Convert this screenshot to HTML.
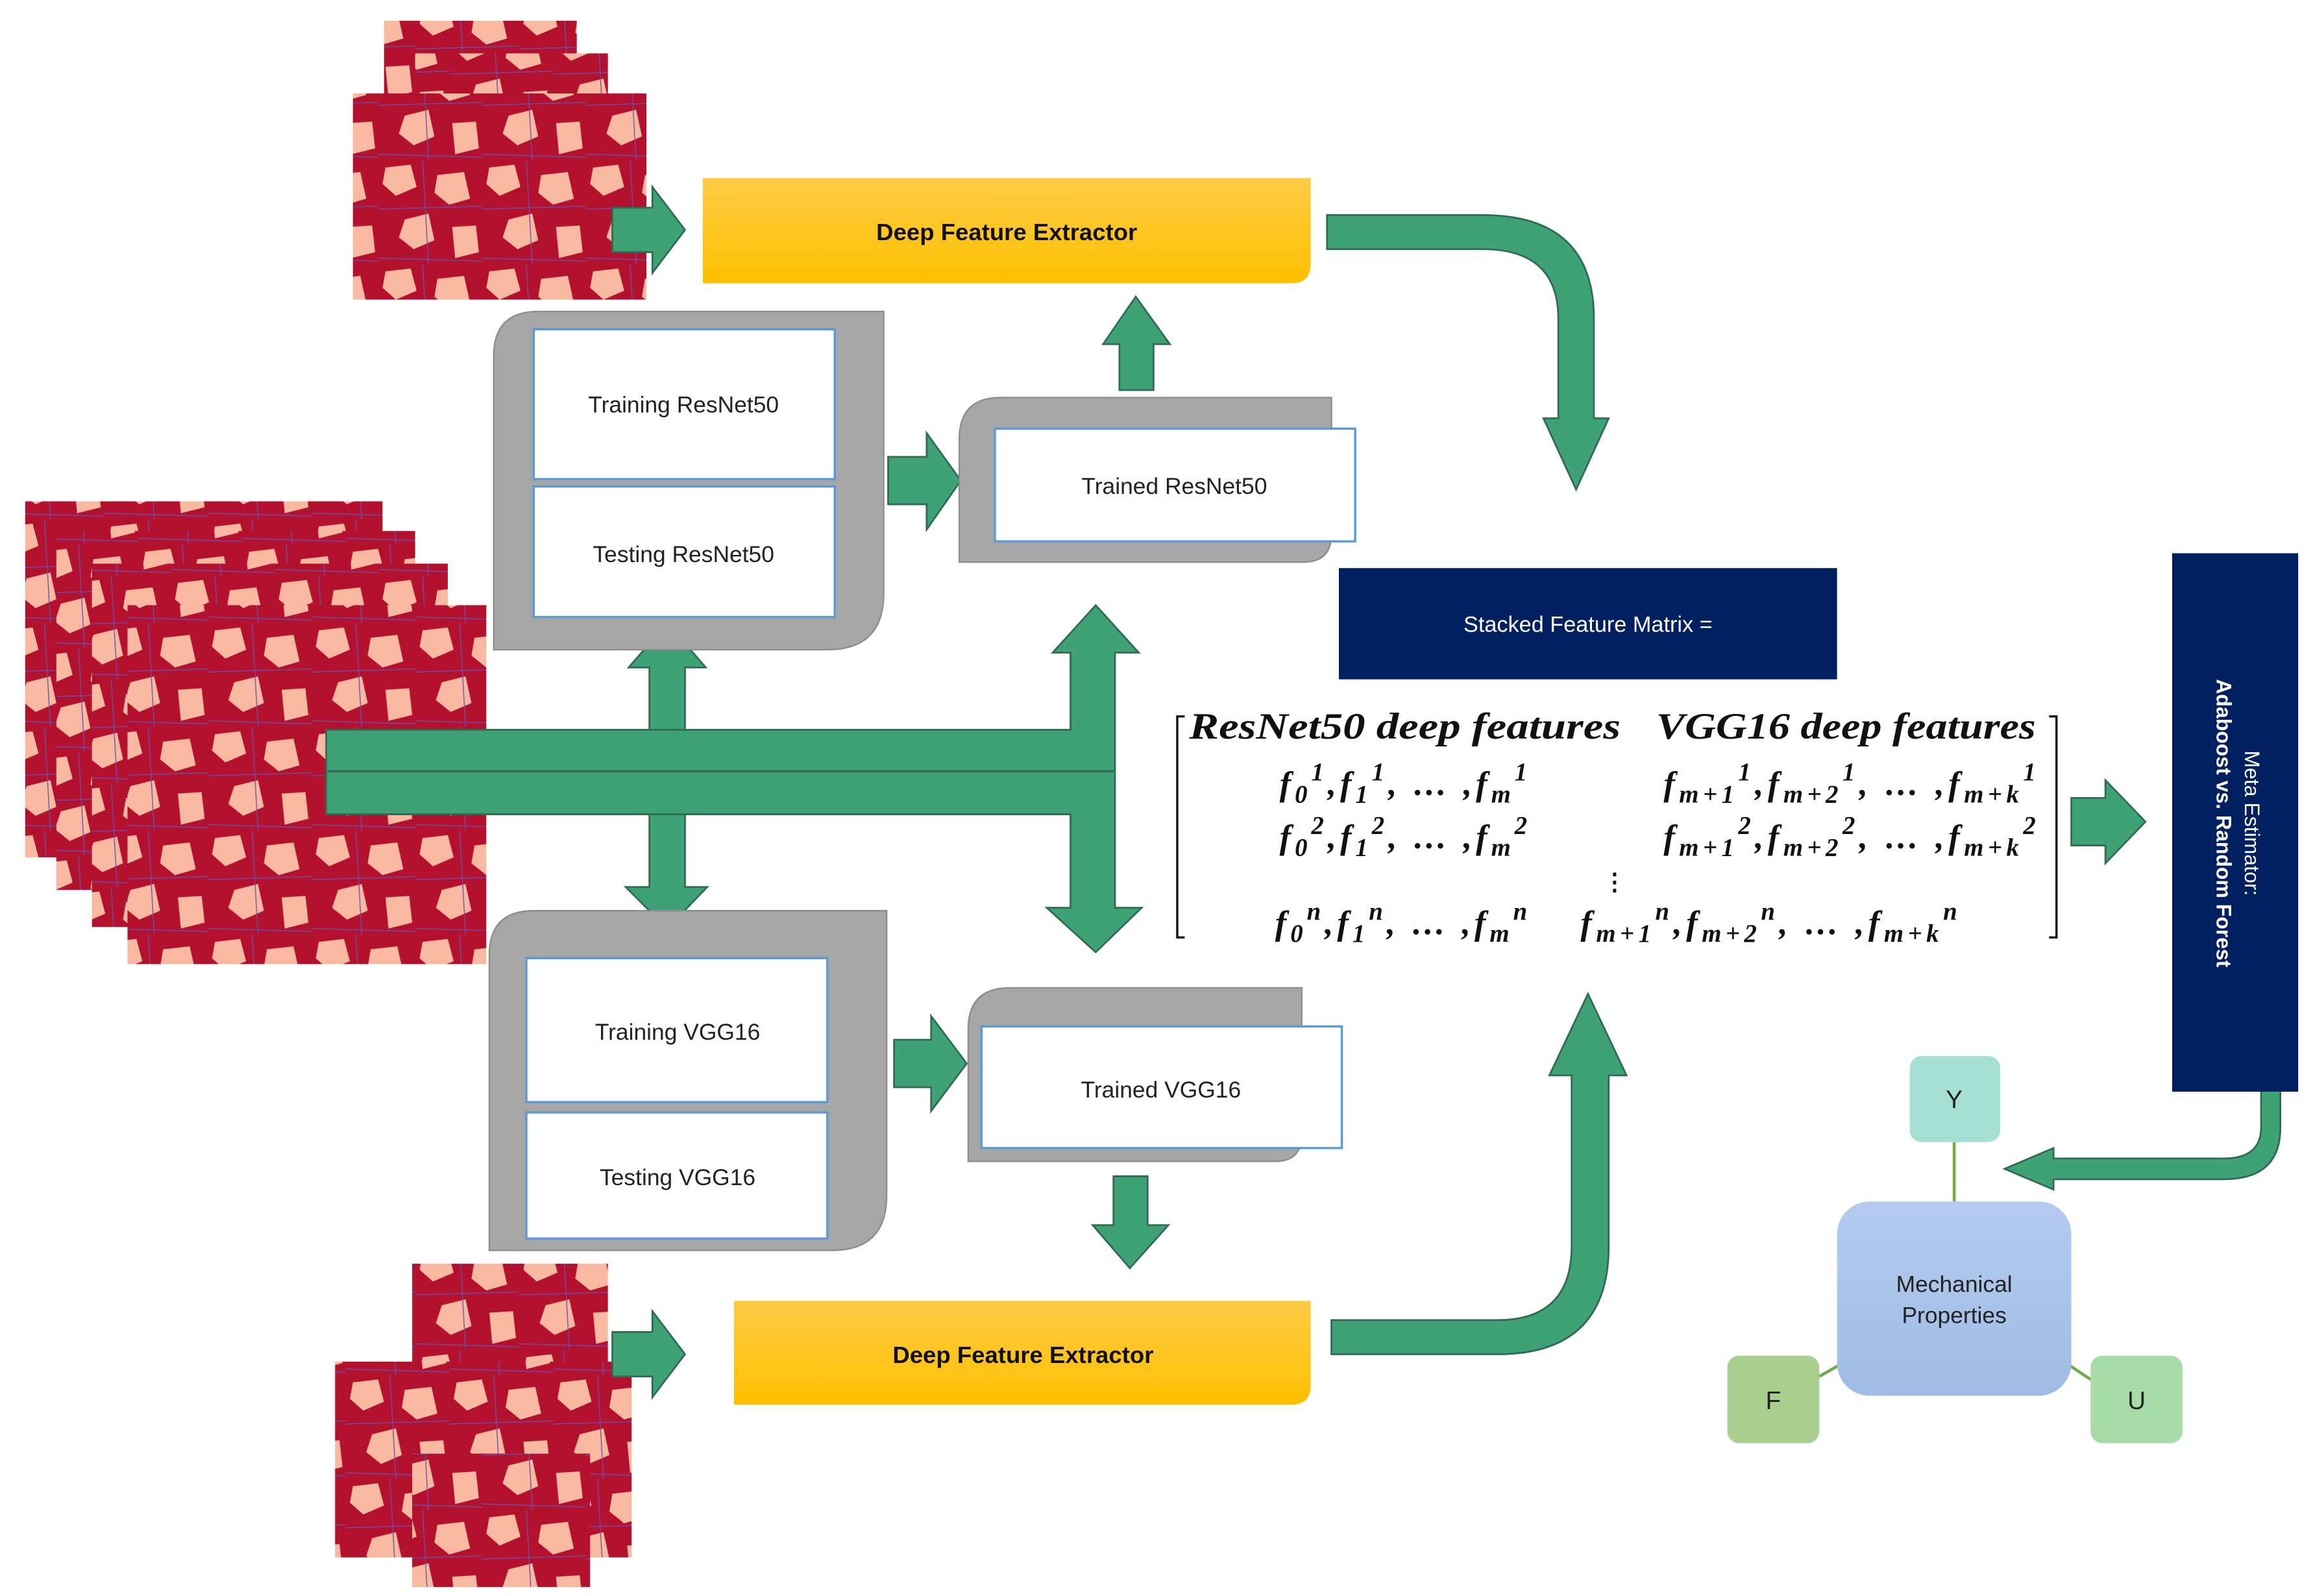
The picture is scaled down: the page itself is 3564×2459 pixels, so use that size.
<!DOCTYPE html>
<html><head><meta charset="utf-8"><style>html,body{margin:0;padding:0;background:#fff}svg{display:block}</style></head>
<body>
<svg width="3564" height="2459" viewBox="0 0 1560 1076" preserveAspectRatio="none" xmlns="http://www.w3.org/2000/svg" font-family="Liberation Sans, sans-serif">
<defs>
<pattern id="mic" width="70" height="70" patternUnits="userSpaceOnUse">
<rect width="70" height="70" fill="#b3112d"/>
<polygon points="5,5 22,3 26,18 12,24 3,16" fill="#f8b9a0"/>
<polygon points="40,10 58,8 62,26 48,30 38,22" fill="#f8b9a0"/>
<polygon points="18,40 34,36 38,54 24,60 14,52" fill="#f8b9a0"/>
<polygon points="50,45 66,44 68,62 52,66" fill="#f8b9a0"/>
<path d="M0,33 L70,31 M30,0 L34,70 M0,66 L70,68" stroke="#6a4fb0" stroke-width="0.6" fill="none"/>
</pattern>
<pattern id="mic2" href="#mic" patternTransform="translate(23,17)"/>
<pattern id="mic3" href="#mic" patternTransform="translate(45,38)"/>
<linearGradient id="yel" x1="0" y1="0" x2="0" y2="1"><stop offset="0" stop-color="#ffcb45"/><stop offset="1" stop-color="#ffc000"/></linearGradient>
<linearGradient id="blu" x1="0" y1="0" x2="0" y2="1"><stop offset="0" stop-color="#b4cbee"/><stop offset="1" stop-color="#9fbce6"/></linearGradient>
</defs>

<rect x="259" y="14" width="130" height="150" fill="url(#mic)"/>
<rect x="280" y="36" width="130" height="150" fill="url(#mic2)"/>
<rect x="238" y="63" width="198" height="139" fill="url(#mic3)"/>
<rect x="17" y="338" width="241" height="240" fill="url(#mic)"/>
<rect x="38" y="358" width="242" height="242" fill="url(#mic2)"/>
<rect x="62" y="380" width="240" height="245" fill="url(#mic3)"/>
<rect x="86" y="408" width="242" height="242" fill="url(#mic)"/>
<rect x="278" y="852" width="132" height="150" fill="url(#mic)"/>
<rect x="226" y="918" width="200" height="132" fill="url(#mic2)"/>
<rect x="278" y="980" width="120" height="90" fill="url(#mic3)"/>

<g fill="#3fa277" stroke="#2e6b52" stroke-width="1.2">
<polygon points="413,140 440,140 440,126 462,155 440,184 440,170 413,170"/>
<polygon points="413,898 440,898 440,884 462,913 440,942 440,928 413,928"/>
<polygon points="599,308 625,308 625,292 648,324 625,357 625,340 599,340"/>
<polygon points="603,701 628,701 628,685 652,717 628,749 628,733 603,733"/>
<polygon points="1397,538 1420,538 1420,526 1447,554 1420,582 1420,570 1397,570"/>
<polygon points="755,263 755,232 744,232 766,200 789,232 778,232 778,263"/>
<polygon points="751,793 774,793 774,826 788,826 762,855 737,826 751,826"/>
<polygon points="438,492 438,450 424,450 450,420 476,450 462,450 462,492"/>
<polygon points="438,549 462,549 462,598 477,598 450,626 422,598 438,598"/>
<polygon points="220,492 722,492 722,440 710,440 739,408 768,440 752,440 752,612 770,612 739,642 706,612 722,612 722,549 220,549"/>
<path d="M895,145 L1000,145 Q1075,145 1075,215 L1075,282 L1085,282 L1063,330 L1041,282 L1051,282 L1051,215 Q1051,168 1000,168 L895,168 Z"/>
<path d="M898,890 L1010,890 Q1060,890 1060,840 L1060,725 L1045,725 L1071,670 L1097,725 L1085,725 L1085,840 Q1085,913 1010,913 L898,913 Z"/>
<path d="M1525,695 L1525,760 Q1525,781 1500,781 L1385,781 L1385,774 L1352,788 L1385,802 L1385,795 L1500,795 Q1538,795 1538,760 L1538,695 Z"/>
</g>
<line x1="221" y1="520" x2="751" y2="520" stroke="#2e6b52" stroke-width="1.5"/>

<path d="M474,120 H884 V178 Q884,191 871,191 H474 Z" fill="url(#yel)"/>
<text x="679" y="162" font-size="16" font-weight="bold" text-anchor="middle" fill="#111">Deep Feature Extractor</text>
<path d="M495,877 H884 V934 Q884,947 871,947 H495 Z" fill="url(#yel)"/>
<text x="690" y="919" font-size="16" font-weight="bold" text-anchor="middle" fill="#111">Deep Feature Extractor</text>

<g fill="#a6a6a6" stroke="#8c8c8c" stroke-width="1">
<path d="M363,210 H596 V400 Q596,438 558,438 H333 V240 Q333,210 363,210 Z"/>
<path d="M675,268 H898 V360 Q898,379 879,379 H647 V296 Q647,268 675,268 Z"/>
<path d="M360,614 H598 V806 Q598,843 561,843 H330 V644 Q330,614 360,614 Z"/>
<path d="M681,666 H878 V765 Q878,783 860,783 H653 V694 Q653,666 681,666 Z"/>
</g>
<g fill="#fff" stroke="#5b9bd5" stroke-width="1.5">
<rect x="360" y="222" width="203" height="101"/>
<rect x="360" y="328" width="203" height="88"/>
<rect x="671" y="289" width="243" height="76"/>
<rect x="355" y="646" width="203" height="97"/>
<rect x="355" y="750" width="203" height="85"/>
<rect x="662" y="692" width="243" height="82"/>
</g>
<g font-size="15.5" fill="#222" text-anchor="middle">
<text x="461" y="278">Training ResNet50</text>
<text x="461" y="379">Testing ResNet50</text>
<text x="792" y="333">Trained ResNet50</text>
<text x="457" y="701">Training VGG16</text>
<text x="457" y="799">Testing  VGG16</text>
<text x="783" y="740">Trained VGG16</text>
</g>

<rect x="903" y="383" width="336" height="75" fill="#002060"/>
<text x="1071" y="426" font-size="15" fill="#fff" text-anchor="middle">Stacked Feature Matrix =</text>

<path d="M799,483 H794 V632 H799 M1382,483 H1387 V632 H1382" stroke="#111" stroke-width="1.5" fill="none"/>
<g font-family="Liberation Serif, serif" font-style="italic" font-weight="bold" fill="#111">
<text x="802" y="498" font-size="25" textLength="291" lengthAdjust="spacingAndGlyphs">ResNet50 deep features</text>
<text x="1117" y="498" font-size="25" textLength="256" lengthAdjust="spacingAndGlyphs">VGG16 deep features</text>
<g font-size="23">
<text x="863" y="536" textLength="167">f<tspan font-size="17" dy="5">0</tspan><tspan font-size="17" dy="-15">1</tspan><tspan dy="10">,f</tspan><tspan font-size="17" dy="5">1</tspan><tspan font-size="17" dy="-15">1</tspan><tspan dy="10">, … ,f</tspan><tspan font-size="17" dy="5">m</tspan><tspan font-size="17" dy="-15">1</tspan></text>
<text x="863" y="572" textLength="167">f<tspan font-size="17" dy="5">0</tspan><tspan font-size="17" dy="-15">2</tspan><tspan dy="10">,f</tspan><tspan font-size="17" dy="5">1</tspan><tspan font-size="17" dy="-15">2</tspan><tspan dy="10">, … ,f</tspan><tspan font-size="17" dy="5">m</tspan><tspan font-size="17" dy="-15">2</tspan></text>
<text x="860" y="630" textLength="170">f<tspan font-size="17" dy="5">0</tspan><tspan font-size="17" dy="-15">n</tspan><tspan dy="10">,f</tspan><tspan font-size="17" dy="5">1</tspan><tspan font-size="17" dy="-15">n</tspan><tspan dy="10">, … ,f</tspan><tspan font-size="17" dy="5">m</tspan><tspan font-size="17" dy="-15">n</tspan></text>
<text x="1122" y="536" textLength="251">f<tspan font-size="17" dy="5">m+1</tspan><tspan font-size="17" dy="-15">1</tspan><tspan dy="10">,f</tspan><tspan font-size="17" dy="5">m+2</tspan><tspan font-size="17" dy="-15">1</tspan><tspan dy="10">, … ,f</tspan><tspan font-size="17" dy="5">m+k</tspan><tspan font-size="17" dy="-15">1</tspan></text>
<text x="1122" y="572" textLength="251">f<tspan font-size="17" dy="5">m+1</tspan><tspan font-size="17" dy="-15">2</tspan><tspan dy="10">,f</tspan><tspan font-size="17" dy="5">m+2</tspan><tspan font-size="17" dy="-15">2</tspan><tspan dy="10">, … ,f</tspan><tspan font-size="17" dy="5">m+k</tspan><tspan font-size="17" dy="-15">2</tspan></text>
<text x="1066" y="630" textLength="254">f<tspan font-size="17" dy="5">m+1</tspan><tspan font-size="17" dy="-15">n</tspan><tspan dy="10">,f</tspan><tspan font-size="17" dy="5">m+2</tspan><tspan font-size="17" dy="-15">n</tspan><tspan dy="10">, … ,f</tspan><tspan font-size="17" dy="5">m+k</tspan><tspan font-size="17" dy="-15">n</tspan></text>
</g>
<text x="1089" y="600" font-size="16" font-style="normal" text-anchor="middle">⋮</text>
</g>

<rect x="1465" y="373" width="85" height="363" fill="#002060"/>
<g transform="translate(1507,555) rotate(90)" text-anchor="middle" fill="#fff">
<text x="0" y="-7" font-size="14">Meta Estimator:</text>
<text x="0" y="12" font-size="14" font-weight="bold">Adaboost vs. Random Forest</text>
</g>

<line x1="1318" y1="770" x2="1318" y2="812" stroke="#70ad47" stroke-width="2"/>
<line x1="1227" y1="928" x2="1241" y2="920" stroke="#70ad47" stroke-width="2"/>
<line x1="1395" y1="920" x2="1410" y2="930" stroke="#70ad47" stroke-width="2"/>
<rect x="1288" y="712" width="61" height="58" rx="8" fill="#a6e0d2"/>
<rect x="1239" y="810" width="158" height="131" rx="22" fill="url(#blu)"/>
<rect x="1165" y="914" width="62" height="59" rx="8" fill="#a9cf8e"/>
<rect x="1410" y="914" width="62" height="59" rx="8" fill="#a7dca8"/>
<g font-size="17" fill="#222" text-anchor="middle">
<text x="1318" y="747">Y</text>
<text x="1196" y="950">F</text>
<text x="1441" y="950">U</text>
</g>
<text x="1318" y="871" font-size="15.5" fill="#222" text-anchor="middle">Mechanical</text>
<text x="1318" y="892" font-size="15.5" fill="#222" text-anchor="middle">Properties</text>
</svg>
</body></html>
